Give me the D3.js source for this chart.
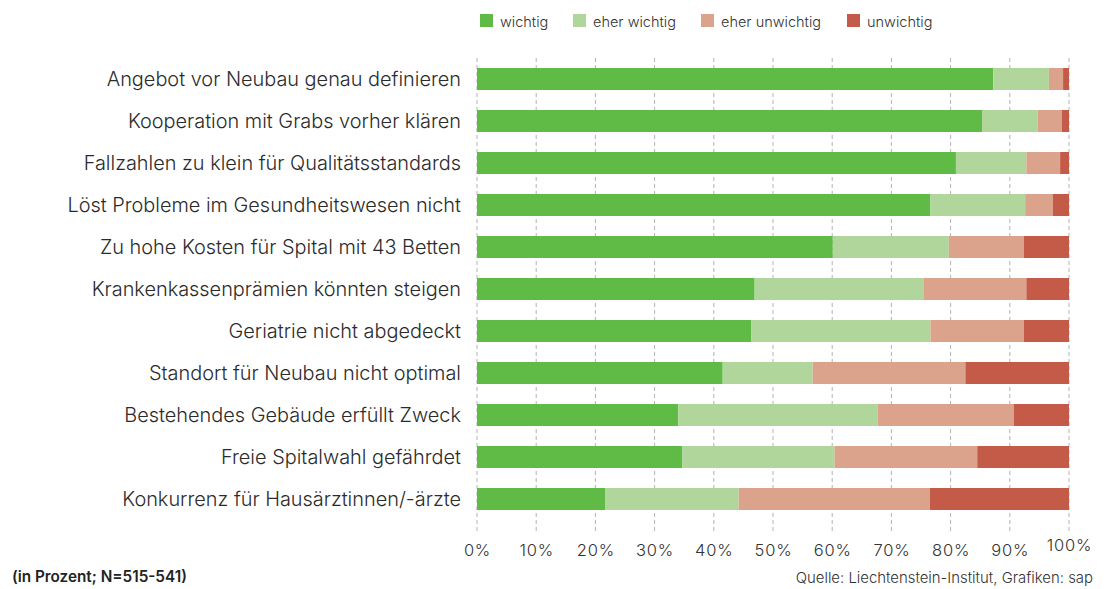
<!DOCTYPE html>
<html><head><meta charset="utf-8">
<script src="https://cdn.jsdelivr.net/npm/d3@7"></script>
<style>
body{margin:0;background:#fff;}
svg{display:block;}
</style></head>
<body>
<svg id="chart" width="1114" height="589"></svg>
<script>
const categories = [
  "Angebot vor Neubau genau definieren",
  "Kooperation mit Grabs vorher klären",
  "Fallzahlen zu klein für Qualitätsstandards",
  "Löst Probleme im Gesundheitswesen nicht",
  "Zu hohe Kosten für Spital mit 43 Betten",
  "Krankenkassenprämien könnten steigen",
  "Geriatrie nicht abgedeckt",
  "Standort für Neubau nicht optimal",
  "Bestehendes Gebäude erfüllt Zweck",
  "Freie Spitalwahl gefährdet",
  "Konkurrenz für Hausärztinnen/-ärzte"
];
const seriesNames = ["wichtig", "eher wichtig", "eher unwichtig", "unwichtig"];
const wichtig       = [87.2, 85.3, 80.9, 76.6, 60.1, 46.9, 46.3, 41.5, 34.0, 34.7, 21.7];
const eherWichtig   = [9.4, 9.4, 11.9, 16.0, 19.6, 28.5, 30.3, 15.2, 33.7, 25.7, 22.5];
const eherUnwichtig = [2.4, 4.1, 5.7, 4.7, 12.7, 17.4, 15.8, 25.8, 23.0, 24.1, 32.3];
const unwichtig     = [1.0, 1.2, 1.5, 2.7, 7.6, 7.2, 7.6, 17.5, 9.3, 15.5, 23.5];
const tickValues = [0,10,20,30,40,50,60,70,80,90,100];
const tickLabels = ["0%","10%","20%","30%","40%","50%","60%","70%","80%","90%","100%"];
const colors = ["#5fba46", "#b0d69c", "#dba28c", "#c45a48"];

const svg = d3.select("#chart");
const font = "Inter, Roboto, 'Noto Sans', sans-serif";

const rows = categories.map((c,i)=>({cat:c, "wichtig":wichtig[i], "eher wichtig":eherWichtig[i], "eher unwichtig":eherUnwichtig[i], "unwichtig":unwichtig[i]}));
const stack = d3.stack().keys(seriesNames)(rows);

const x = d3.scaleLinear().domain([0,100]).range([477,1069]);
const y = d3.scaleBand().domain(categories).range([58,520]).paddingInner(0.476).paddingOuter(0.238);

// gridlines
svg.append("g").selectAll("line").data(tickValues).join("line")
  .attr("x1",d=>x(d)).attr("x2",d=>x(d)).attr("y1",58).attr("y2",531)
  .attr("stroke","#b3b3b3").attr("stroke-width",1).attr("stroke-dasharray","4,3");

// bars
svg.append("g").selectAll("g").data(stack).join("g")
  .attr("fill",(d,i)=>colors[i])
  .selectAll("rect").data(d=>d).join("rect")
  .attr("x",d=>x(d[0])).attr("width",d=>x(d[1])-x(d[0]))
  .attr("y",d=>y(d.data.cat)).attr("height",y.bandwidth());

// category labels
svg.append("g").selectAll("text").data(categories).join("text")
  .attr("x",461).attr("y",d=>y(d)+y.bandwidth()/2)
  .attr("dy","0.36em").attr("text-anchor","end")
  .attr("font-family",font).attr("font-weight",300).attr("font-size",19.9)
  .attr("fill","#2b2b2b").text(d=>d);

// x axis labels
const axis = d3.axisBottom(x).tickValues(tickValues).tickFormat((d,i)=>tickLabels[i]).tickSize(0);
const ag = svg.append("g").attr("transform","translate(0,536)").call(axis);
ag.select(".domain").remove();
ag.selectAll("text").attr("font-family",font).attr("font-weight",300).attr("font-size",16.5).attr("fill","#333")
  .attr("letter-spacing","0.8px").attr("y",8).attr("dy","0.71em");
ag.selectAll(".tick").filter(d=>d===100).select("text").attr("y",3);

// legend
const legX = [480, 573, 701, 847];
const lg = svg.append("g").selectAll("g").data(seriesNames).join("g")
  .attr("transform",(d,i)=>`translate(${legX[i]},14)`);
lg.append("rect").attr("width",13).attr("height",13).attr("fill",(d,i)=>colors[i]);
lg.append("text").attr("x",20).attr("y",12.5).attr("font-family",font).attr("font-weight",300)
  .attr("font-size",14.5).attr("fill","#333").text(d=>d);

// footer
svg.append("text").attr("x",12).attr("y",582).attr("font-family",font)
  .attr("font-weight",600).attr("font-size",15.3).attr("fill","#222").text("(in Prozent; N=515-541)");
svg.append("text").attr("x",1093).attr("y",583).attr("text-anchor","end").attr("font-family",font)
  .attr("font-weight",300).attr("font-size",14.9).attr("fill","#333").text("Quelle: Liechtenstein-Institut, Grafiken: sap");
</script>
</body></html>
